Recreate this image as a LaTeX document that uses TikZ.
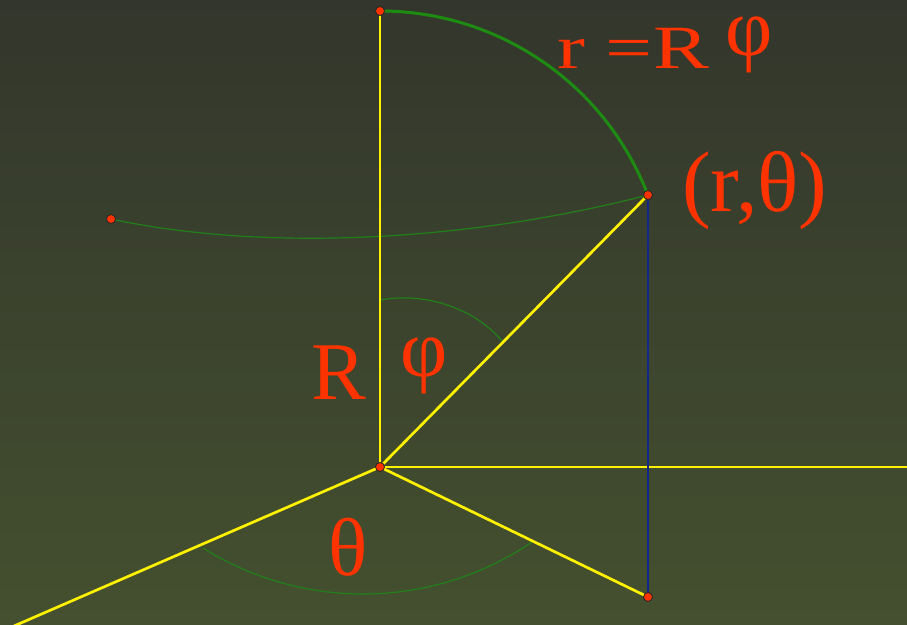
\documentclass[tikz,border=0pt]{standalone}
\usepackage{fontspec}
\setmainfont{Liberation Serif}
\usetikzlibrary{positioning}
\definecolor{bgtop}{HTML}{33362C}
\definecolor{bgbot}{HTML}{44502F}
\definecolor{labelred}{HTML}{FF3300}
\definecolor{arcgreen}{HTML}{1E8C12}
\definecolor{thingreen}{HTML}{22801A}
\definecolor{dropblue}{HTML}{10288C}
\tikzset{
  axisline/.style={yellow,line width=2.7pt},
  droplead/.style={dropblue,line width=2.5pt},
  bigarc/.style={arcgreen,line width=3pt},
  thinarc/.style={thingreen,line width=1.2pt},
  pointdot/.style={circle,fill=labelred,draw=black!85,line width=0.8pt,
                   inner sep=0pt,minimum size=9pt},
  biglabel/.style={text=labelred,inner sep=0pt,anchor=base west,
                   font=\fontsize{82}{90}\selectfont},
}

\begin{document}
\begin{tikzpicture}[x=1pt,y=1pt]
  \useasboundingbox (0,0) rectangle (907,624);
  \shade[top color=bgtop,bottom color=bgbot] (0,0) rectangle (907,624);
  % points of the figure
  \coordinate (O) at (380,157);
  \coordinate (T) at (380,613);
  \coordinate (P) at (648,429);
  \coordinate (Q) at (648,27);
  \coordinate (L) at (111,405);
  \coordinate (E) at (910,157);
  \coordinate (W) at (14,-2);
  \coordinate (phA) at (380,324);
  \coordinate (phB) at (502,283);
  \coordinate (thA) at (203,76);
  % thin arcs
  \draw[thinarc] (L) .. controls (250,375) and (450,378) .. (P);
  \draw[thinarc] (phA) .. controls (430,333) and (478,312) .. (phB);
  \draw[thinarc] (thA) arc[start angle=237.9,end angle=304.2,radius=301pt];
  % axes and radii
  \draw[axisline] (O) -- (T);
  \draw[axisline] (O) -- (E);
  \draw[axisline] (O) -- (W);
  \draw[axisline] (O) -- (P);
  \draw[axisline] (O) -- (Q);
  \draw[droplead] (P) -- (Q);
  % arc r = R phi
  \draw[bigarc] (T) arc[start angle=90,end angle=21,radius=287pt];
  % dots
  \foreach \p in {O,T,P,Q,L}
    \node[pointdot] (dot\p) at (\p) {};
  % labels
  \node[biglabel] (lblarc) at (557,555) {\scalebox{1.02}[0.75]{r =R}};
  \node[biglabel] (lblarcphi) at (725,568) {φ};
  \node[biglabel,font=\fontsize{86}{90}\selectfont] (lblpoint) at (682,412) {(r,θ)};
  \node[biglabel] (lblR) at (311,224) {R};
  \node[biglabel] (lblphi) at (400,247) {φ};
  \node[biglabel] (lbltheta) at (328,49) {θ};
\end{tikzpicture}
\end{document}
